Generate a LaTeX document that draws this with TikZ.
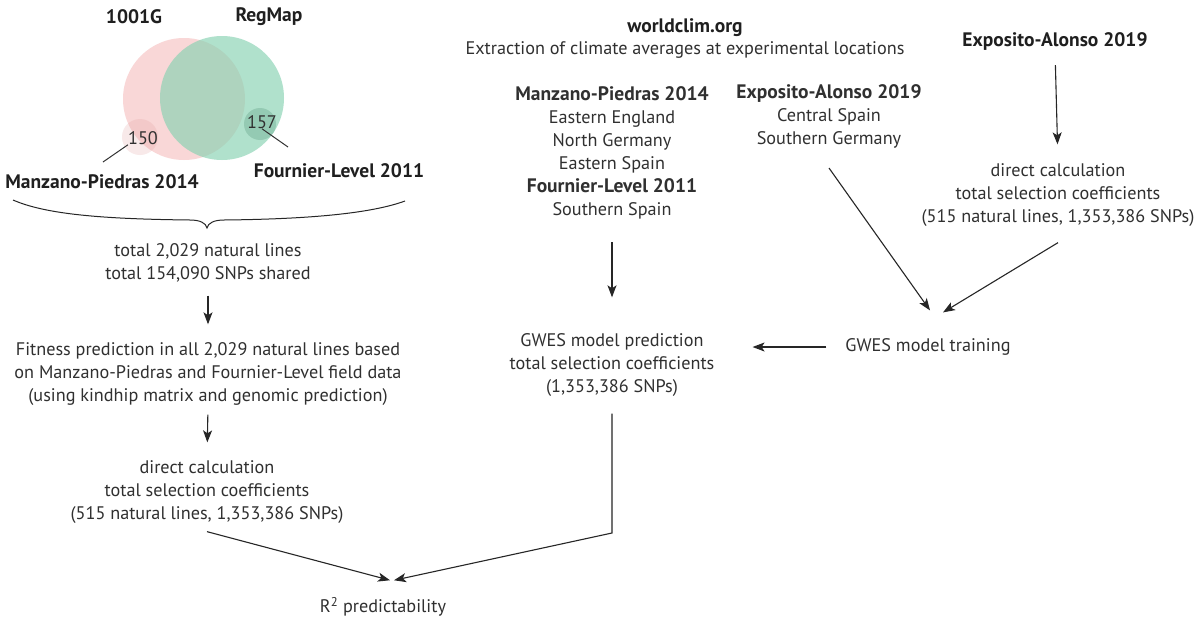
\documentclass[tikz,border=0pt]{standalone}
\usepackage{fontspec}
\setmainfont{PT Sans}
\usetikzlibrary{arrows.meta}
\definecolor{inkgray}{HTML}{303030}
\definecolor{vennpink}{HTML}{F9D7D7}
\definecolor{venngreen}{HTML}{86D2B2}
\newcommand{\fsText}{\fontsize{18.2}{23}\selectfont}
\newcommand{\fsHead}{\fontsize{19.5}{23}\selectfont\bfseries}

\begin{document}
\begin{tikzpicture}[x=1pt,y=-1pt,
  lbl/.style={font=\fsText, text=inkgray, align=center, inner sep=0pt},
  hdr/.style={lbl, font=\fsHead, text=black!88},
  arr/.style={-{Stealth[length=12pt,width=9pt,inset=3pt]}, line width=1.1pt, draw=black!85}]
\useasboundingbox[fill=white] (0,0) rectangle (1201,621);

% venn of the two panels
\fill[vennpink] (184,99) circle (61);
\fill[venngreen, fill opacity=0.65] (222,98) circle (62);
\fill[vennpink!80!red!90!black, fill opacity=0.22] (140,137) circle (18);
\fill[venngreen!80!black, fill opacity=0.4] (260,124) circle (16);
\node[hdr] (g1001) at (134,17) {1001G};
\node[hdr] (regmap) at (269,17) {RegMap};
\node[lbl] (n150) at (143,138) {150};
\node[lbl] (n157) at (262,122) {157};
\node[hdr] (mp) at (102,182) {Manzano-Piedras 2014};
\node[hdr] (fl) at (339,171) {Fournier-Level 2011};
\coordinate (lead150) at (103,162);
\coordinate (lead157) at (288,147);
\draw[line width=1pt, draw=black!80] (lead150) -- (n150.south west);
\draw[line width=1pt, draw=black!80] (n157.south) -- (lead157);

% brace
\draw[line width=1pt, draw=black!85] (13,200) .. controls (45,214) and (100,219) .. (190,220)
  .. controls (200,220) and (206,223) .. (207,228) .. controls (208,223) and (214,220) .. (224,220)
  .. controls (320,219) and (375,212) .. (405,201);

% left column
\node[lbl] (shared) at (208,263) {total 2,029 natural lines\\total 154,090 SNPs shared};
\node[lbl] (fitpred) at (208,374) {Fitness prediction in all 2,029 natural lines based\\on Manzano-Piedras and Fournier-Level field data\\(using kindhip matrix and genomic prediction)};
\node[lbl] (directL) at (207,492) {direct calculation\\total selection coefficients\\(515 natural lines, 1,353,386 SNPs)};
\node[lbl] (r2) at (383,607) {R\textsuperscript{2} predictability};

% middle column
\node[hdr] (wc) at (685,28) {worldclim.org};
\node[lbl] (extract) at (685,50) {Extraction of climate averages at experimental locations};
\node[lbl] (mpsites) at (612,153) {{\fsHead Manzano-Piedras 2014}\\Eastern England\\North Germany\\Eastern Spain\\{\fsHead Fournier-Level 2011}\\Southern Spain};
\node[lbl] (easites) at (829,116) {{\fsHead Exposito-Alonso 2019}\\Central Spain\\Southern Germany};
\node[lbl] (gwespred) at (612,365) {GWES model prediction\\total selection coefficients\\(1,353,386 SNPs)};
\node[lbl] (gwestrain) at (928,347) {GWES model training};
\coordinate (bend) at (612,533);

% right column
\node[hdr] (eatop) at (1055,41) {Exposito-Alonso 2019};
\node[lbl] (directR) at (1058,195) {direct calculation\\total selection coefficients\\(515 natural lines, 1,353,386 SNPs)};

% arrows
\draw[arr, shorten <=13pt, shorten >=18pt] (shared.south) -- (fitpred.north);
\draw[arr, shorten <=9pt, shorten >=18pt] (fitpred.south) -- (directL.north);
\draw[arr] ([yshift=-8pt]directL.south) -- ([xshift=7pt,yshift=17pt]r2.north);
\draw[arr, shorten <=23pt, shorten >=36pt] (mpsites.south) -- (gwespred.north);
\draw[arr, shorten <=17pt] (gwespred.south) -- (bend) -- ([xshift=11pt,yshift=17pt]r2.north);
\draw[arr, shorten <=19pt, shorten >=38pt] (gwestrain.west) -- (gwestrain.west -| gwespred.east);
\draw[arr] ([yshift=-20pt]easites.south) -- ([xshift=2pt,yshift=28pt]gwestrain.north);
\draw[arr] ([yshift=-16pt]directR.south) -- ([xshift=15pt,yshift=26pt]gwestrain.north);
\draw[arr, shorten <=15pt, shorten >=19pt] (eatop.south) -- (directR.north);
\end{tikzpicture}
\end{document}
